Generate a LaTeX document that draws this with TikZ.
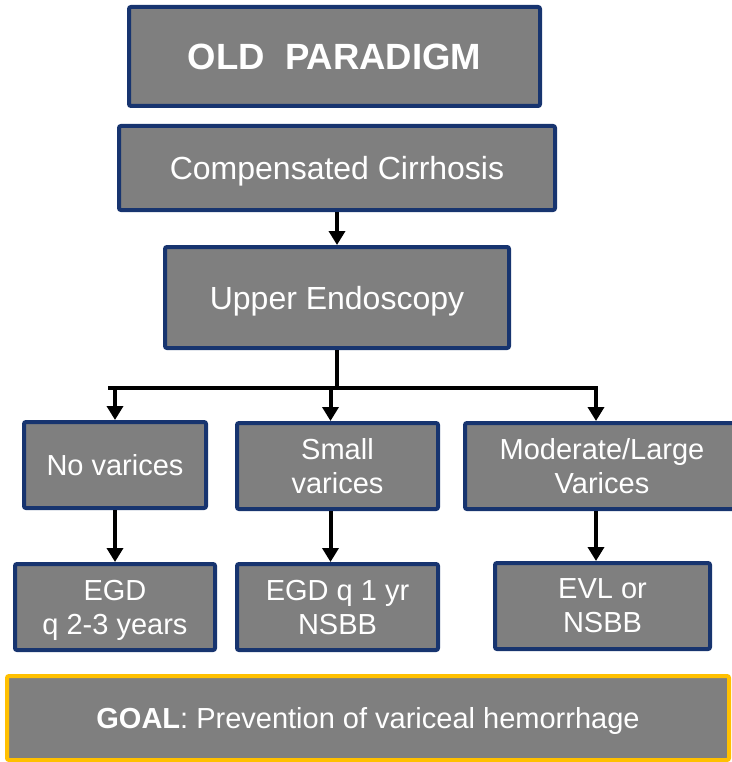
\documentclass[tikz,border=0pt]{standalone}
\usepackage{fontspec}
\setmainfont{Liberation Sans}
\usepackage{tikz}
\usetikzlibrary{arrows.meta}
\definecolor{boxfill}{HTML}{7F7F7F}
\definecolor{navy}{HTML}{17346F}
\definecolor{gold}{HTML}{FFC000}
\tikzset{
  box/.style={draw=navy, fill=boxfill, line width=4pt, rounded corners=2pt, text=white, align=center, inner sep=0pt, text depth=0pt, font=\fontsize{29}{34}\selectfont},
  bigbox/.style={box, font=\fontsize{32}{38}\selectfont},
  titlebox/.style={box, font=\fontsize{36.5}{42}\selectfont\bfseries},
  goalbox/.style={box, draw=gold},
  link/.style={draw=black, line width=4pt},
  arr/.style={link, -{Triangle[width=16pt,length=14pt]}},
}

\begin{document}
\begin{tikzpicture}[x=1pt, y=-1pt]
  \useasboundingbox (0,0) rectangle (731,762);
  % main column
  \node[titlebox, minimum width=411pt, minimum height=99pt] (old) at (334.5,56.5) {OLD~~PARADIGM};
  \node[bigbox, minimum width=436pt, minimum height=84pt] (comp) at (337,168) {Compensated Cirrhosis};
  \node[bigbox, minimum width=344pt, minimum height=101pt] (endo) at (337,297.5) {Upper Endoscopy};
  % findings
  \node[box, minimum width=182pt, minimum height=86pt] (none) at (115,465) {No varices};
  \node[box, minimum width=201pt, minimum height=86pt] (small) at (337.5,466) {Small\\varices};
  \node[box, minimum width=274pt, minimum height=86pt] (large) at (602,466) {Moderate/Large\\Varices};
  % management
  \node[box, minimum width=200pt, minimum height=86pt] (egdA) at (115,607) {EGD\\q 2-3 years};
  \node[box, minimum width=201pt, minimum height=86pt] (egdB) at (337.5,607) {EGD q 1 yr\\NSBB};
  \node[box, minimum width=215pt, minimum height=86pt] (evl) at (602.5,606) {EVL or\\NSBB};
  \node[goalbox, minimum width=722pt, minimum height=84pt] (goal) at (368,718) {\textbf{GOAL}: Prevention of variceal hemorrhage};
  % connectors
  \coordinate (fork) at (337,388);
  \coordinate (forkL) at (108,388);
  \coordinate (forkR) at (598,388);
  \coordinate (smallIn) at ([xshift=-7pt]small.north);
  \coordinate (smallOut) at ([xshift=-7pt]small.south);
  \coordinate (largeIn) at ([xshift=-6pt]large.north);
  \coordinate (largeOut) at ([xshift=-6pt]large.south);
  \coordinate (egdBIn) at ([xshift=-7pt]egdB.north);
  \coordinate (evlIn) at ([xshift=-6.5pt]evl.north);
  \draw[arr] (comp) -- (endo);
  \draw[link] (endo) -- (fork);
  \draw[link] (forkL) -- (forkR);
  \draw[arr] (fork -| none.north) -- (none.north);
  \draw[arr] (fork -| smallIn) -- (smallIn);
  \draw[arr] (fork -| largeIn) -- (largeIn);
  \draw[arr] (none) -- (egdA);
  \draw[arr] (smallOut) -- (egdBIn);
  \draw[arr] (largeOut) -- (evlIn);
\end{tikzpicture}
\end{document}
